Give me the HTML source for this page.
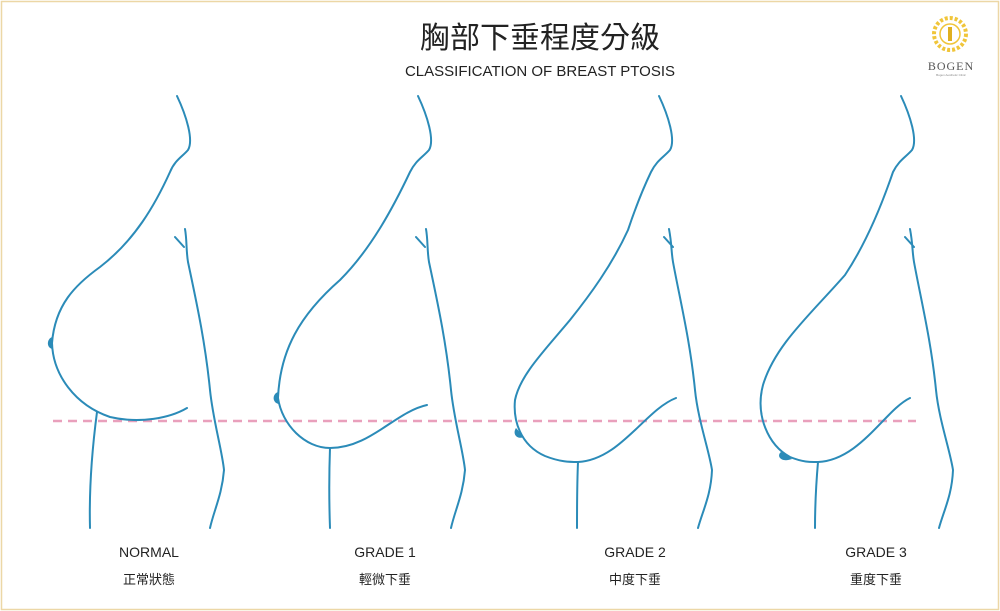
<!DOCTYPE html>
<html><head><meta charset="utf-8"><style>
html,body{margin:0;padding:0;background:#fff}
.wrap{position:relative;width:1000px;height:611px;overflow:hidden}
svg{position:absolute;left:0;top:0}
.t{font-family:"Liberation Sans","Noto Sans CJK TC",sans-serif;fill:#222}
</style></head><body><div class="wrap">
<svg width="1000" height="611" viewBox="0 0 1000 611">
<rect x="1.5" y="1.5" width="997" height="608" fill="#fff" stroke="#ecd7a6" stroke-width="1.5"/>
<text class="t" x="540" y="48" font-size="30" text-anchor="middle">胸部下垂程度分級</text>
<text class="t" x="540" y="76" font-size="15" text-anchor="middle">CLASSIFICATION OF BREAST PTOSIS</text>
<g transform="translate(950,34)">
<circle r="16" fill="none" stroke="#f0c53a" stroke-width="4" stroke-dasharray="3 2"/>
<circle r="10" fill="none" stroke="#f0c53a" stroke-width="1.5"/>
<rect x="-2" y="-7" width="4" height="14" fill="#e0b020"/>
</g>
<text x="951" y="70" font-size="12" text-anchor="middle" font-family="Liberation Serif,serif" fill="#555" letter-spacing="1">BOGEN</text>
<text x="951" y="76" font-size="3" text-anchor="middle" font-family="Liberation Sans,sans-serif" fill="#888">Bogen Aesthetic Clinic</text>
<line x1="53" y1="421" x2="916" y2="421" stroke="#e9a0bc" stroke-width="2.4" stroke-dasharray="9 6"/>
<g fill="none" stroke="#2b8bb8" stroke-width="2" stroke-linecap="round">
<path d="M177,96 C186,115 194,140 188,150 C182,157 175,160 170,172 C155,205 135,240 100,267 C75,285 55,305 52,343 C53,375 75,405 110,417 C140,424 170,418 187,408"/>
<path d="M97,412 C92,450 89,490 90,528"/>
<path d="M175,237 L184,247 M185,229 C187,240 186,250 188,262 C196,300 205,340 210,390 C213,420 222,450 224,470 C222,495 214,510 210,528"/>
<path d="M418,96 C427,115 435,140 429,150 C423,157 416,160 410,172 C392,210 370,250 340,280 C300,315 280,350 278,398 C282,425 305,448 330,448 C370,448 395,412 427,405"/>
<path d="M330,448 C329,475 329,500 330,528"/>
<path d="M416,237 L425,247 M426,229 C428,240 427,250 429,262 C437,300 446,340 451,390 C454,420 463,450 465,470 C463,495 455,510 451,528"/>
<path d="M659,96 C668,115 676,140 670,150 C664,157 657,160 651,172 C640,195 633,215 628,230 C612,265 590,295 570,320 C545,350 520,375 515,400 C513,420 520,445 545,456 C560,462 570,462 578,462 C620,460 645,410 676,398"/>
<path d="M578,462 C577,485 577,505 577,528"/>
<path d="M664,237 L673,247 M669,229 C672,245 671,250 673,262 C680,300 690,340 695,390 C698,420 709,450 712,470 C711,495 703,510 698,528"/>
<path d="M901,96 C910,115 918,140 912,150 C906,157 899,160 893,172 C880,210 865,245 845,275 C810,315 775,345 763,385 C755,415 768,445 790,457 C805,463 812,462 818,462 C860,460 885,410 910,398"/>
<path d="M818,462 C816,485 815,505 815,528"/>
<path d="M905,237 L914,247 M910,229 C913,245 912,250 914,262 C921,300 931,340 936,390 C939,420 950,450 953,470 C952,495 944,510 939,528"/>
</g>
<g fill="#2b8bb8">
<path d="M52,337 C47,339 46,347 52,349 Z"/>
<path d="M278,392 C272,394 272,403 279,404 Z"/>
<path d="M516,428 C512,434 517,440 524,437 Z"/>
<path d="M781,452 C776,456 781,463 792,459 Z"/>
</g>
<g class="t" font-size="14" text-anchor="middle">
<text x="149" y="557">NORMAL</text>
<text x="385" y="557">GRADE 1</text>
<text x="635" y="557">GRADE 2</text>
<text x="876" y="557">GRADE 3</text>
<text x="149" y="584" font-size="13">正常狀態</text>
<text x="385" y="584" font-size="13">輕微下垂</text>
<text x="635" y="584" font-size="13">中度下垂</text>
<text x="876" y="584" font-size="13">重度下垂</text>
</g>
</svg></div></body></html>
